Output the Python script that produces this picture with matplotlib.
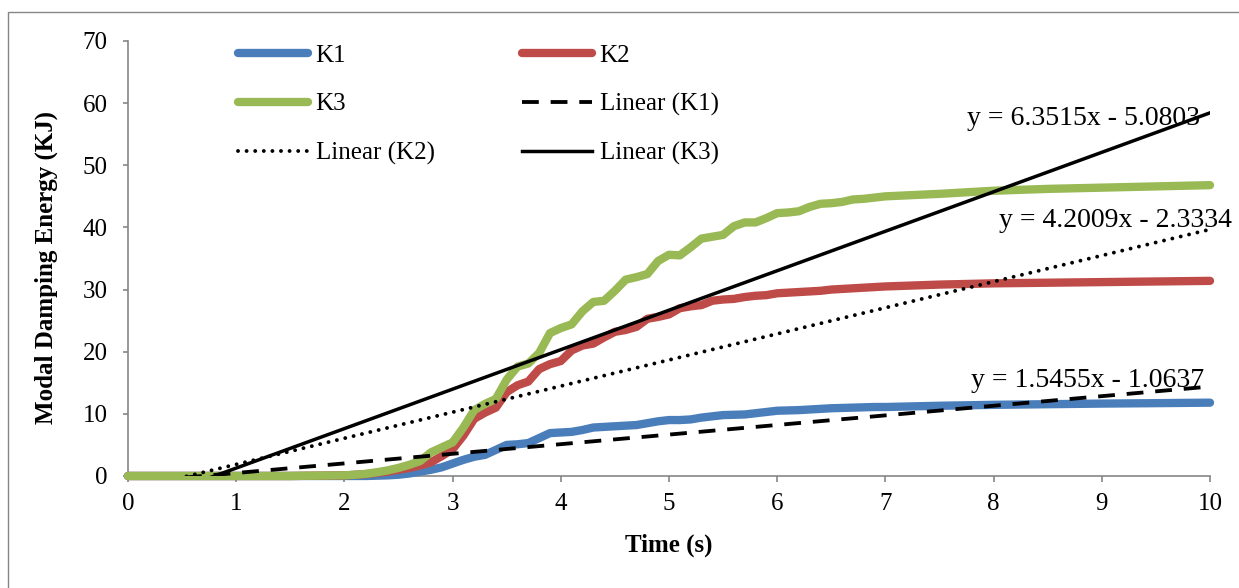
import matplotlib.pyplot as plt
from matplotlib.patches import Rectangle

# time (s)
time = [0.0, 0.5, 1.0, 1.5, 2.0,
        2.1, 2.2, 2.3, 2.4, 2.5, 2.6, 2.7, 2.8, 2.9, 3.0,
        3.1, 3.2, 3.3, 3.4, 3.5, 3.6, 3.7, 3.8, 3.9, 4.0,
        4.1, 4.2, 4.3, 4.4, 4.5, 4.6, 4.7, 4.8, 4.9, 5.0,
        5.1, 5.2, 5.3, 5.4, 5.5, 5.6, 5.7, 5.8, 5.9, 6.0,
        6.1, 6.2, 6.3, 6.4, 6.5, 6.6, 6.7, 6.8, 6.9, 7.0,
        7.5, 8.0, 8.5, 9.0, 9.5, 10.0]

k1 = [0.0, 0.0, 0.0, 0.0, 0.0,
      0.0, 0.0, 0.05, 0.1, 0.2, 0.4, 0.7, 1.0, 1.4, 2.0,
      2.6, 3.1, 3.4, 4.2, 5.0, 5.1, 5.3, 6.1, 6.9, 7.0,
      7.1, 7.4, 7.8, 7.9, 8.0, 8.1, 8.2, 8.5, 8.8, 9.0,
      9.0, 9.1, 9.4, 9.6, 9.8, 9.85, 9.9, 10.1, 10.3, 10.5,
      10.55, 10.6, 10.7, 10.8, 10.9, 10.95, 11.0, 11.05, 11.1, 11.1,
      11.3, 11.45, 11.55, 11.65, 11.72, 11.8]

k2 = [0.0, 0.0, 0.0, 0.0, 0.1,
      0.2, 0.3, 0.5, 0.7, 1.0, 1.3, 1.7, 2.2, 3.2, 4.3,
      6.5, 9.2, 10.2, 11.0, 13.5, 14.6, 15.2, 17.2, 18.0, 18.5,
      20.2, 21.0, 21.3, 22.3, 23.2, 23.5, 24.0, 25.3, 25.6, 26.0,
      27.0, 27.3, 27.5, 28.2, 28.4, 28.5, 28.8, 29.0, 29.1, 29.4,
      29.5, 29.6, 29.7, 29.8, 30.0, 30.1, 30.2, 30.3, 30.4, 30.5,
      30.8, 31.0, 31.1, 31.2, 31.3, 31.4]

k3 = [0.0, 0.0, 0.0, 0.0, 0.1,
      0.2, 0.35, 0.6, 0.9, 1.3, 1.8, 2.4, 3.8, 4.6, 5.4,
      7.8, 10.6, 11.6, 12.4, 15.5, 17.6, 18.1, 19.8, 23.0, 23.8,
      24.4, 26.5, 28.0, 28.2, 29.8, 31.6, 32.0, 32.5, 34.6, 35.6,
      35.5, 36.8, 38.2, 38.5, 38.8, 40.2, 40.8, 40.8, 41.5, 42.3,
      42.4, 42.6, 43.3, 43.8, 43.9, 44.1, 44.5, 44.6, 44.8, 45.0,
      45.4, 45.9, 46.2, 46.4, 46.6, 46.8]

# linear trendline coefficients (slope, intercept)
fit_k1 = (1.5455, -1.0637)
fit_k2 = (4.2009, -2.3334)
fit_k3 = (6.3515, -5.0803)

plt.rcParams['font.family'] = ['Liberation Serif', 'DejaVu Serif']
plt.rcParams['font.size'] = 18

fig = plt.figure(figsize=(12.39, 5.88), dpi=100)
ax = fig.add_axes([0.1033, 0.1905, 0.8733, 0.7398])

blue = '#4A7EBB'
red = '#BE4B48'
green = '#98B954'
grey = '#868686'

series_kw = dict(lw=6, zorder=3, clip_on=False,
                 solid_joinstyle='round', solid_capstyle='round')
l1, = ax.plot(time, k1, color=blue, label='K1', **series_kw)
l2, = ax.plot(time, k2, color=red, label='K2', **series_kw)
l3, = ax.plot(time, k3, color=green, label='K3', **series_kw)

xs = [0, 10]
t1, = ax.plot(xs, [fit_k1[0] * x + fit_k1[1] for x in xs], color='black',
              lw=2.75, linestyle=(0, (4.4, 3.1)), label='Linear (K1)', zorder=4)
t2, = ax.plot(xs, [fit_k2[0] * x + fit_k2[1] for x in xs], color='black',
              lw=2.8, linestyle=(0, (0.01, 2.2)), dash_capstyle='round',
              label='Linear (K2)', zorder=4)
t3, = ax.plot(xs, [fit_k3[0] * x + fit_k3[1] for x in xs], color='black',
              lw=2.5, label='Linear (K3)', zorder=4)

# trendline equations
ax.text(9.91, 57.5, 'y = %.4fx - %.4f' % (fit_k3[0], -fit_k3[1]),
        ha='right', va='center', fontsize=20, clip_on=False)
ax.text(10.2, 41.1, 'y = %.4fx - %.4f' % (fit_k2[0], -fit_k2[1]),
        ha='right', va='center', fontsize=20, clip_on=False)
ax.text(9.95, 15.3, 'y = %.4fx - %.4f' % (fit_k1[0], -fit_k1[1]),
        ha='right', va='center', fontsize=20, clip_on=False)

ax.set_xlim(0, 10)
ax.set_ylim(0, 70)
ax.set_xticks(range(0, 11))
ax.set_yticks(range(0, 71, 10))

for s in ['top', 'right']:
    ax.spines[s].set_visible(False)
for s in ['left', 'bottom']:
    ax.spines[s].set_color(grey)
    ax.spines[s].set_linewidth(1.2)
ax.tick_params(axis='x', direction='out', length=4.5, width=1.2, color=grey, pad=8)
ax.tick_params(axis='y', direction='out', length=3.5, width=1.2, color=grey, pad=11)

ax.set_xlabel('Time (s)', fontweight='bold', fontsize=18)
ax.xaxis.set_label_coords(0.5, -0.159)
ax.xaxis.label.set_va('center')
ax.set_ylabel('Modal Damping Energy (KJ)', fontweight='bold', fontsize=18)
ax.yaxis.set_label_coords(-0.0758, 0.48)
ax.yaxis.label.set_va('center')

# legend filled column by column, so order gives K1 K2 / K3 Lin1 / Lin2 Lin3
handles = [l1, l3, t2, l2, t1, t3]
leg = fig.legend(handles, [h.get_label() for h in handles], ncol=2,
                 loc='upper left', bbox_to_anchor=(0.1921, 0.925),
                 frameon=False, fontsize=18, handlelength=2.8,
                 handletextpad=0.3, columnspacing=3.5, labelspacing=1.05,
                 borderpad=0, borderaxespad=0)

fig.add_artist(Rectangle((8 / 1239, -0.1), 1.1, 1.1 - 12 / 588,
                         transform=fig.transFigure, fill=False,
                         edgecolor=grey, lw=1))

fig.savefig('out.png', dpi=100)
